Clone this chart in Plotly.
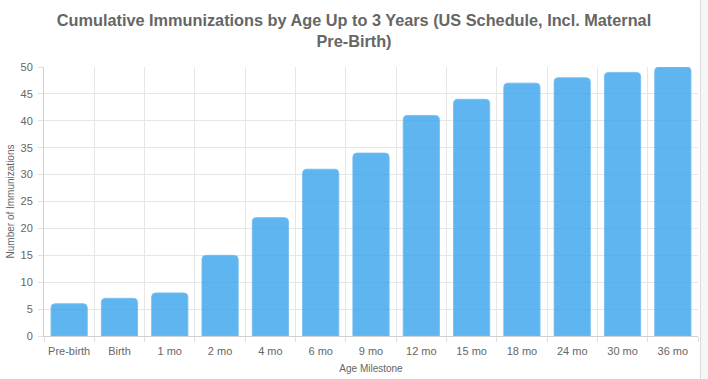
import plotly.graph_objects as go

categories = ["Pre-birth", "Birth", "1 mo", "2 mo", "4 mo", "6 mo", "9 mo",
              "12 mo", "15 mo", "18 mo", "24 mo", "30 mo", "36 mo"]
immunizations = [6, 7, 8, 15, 22, 31, 34, 41, 44, 47, 48, 49, 50]
y_ticks = [0, 5, 10, 15, 20, 25, 30, 35, 40, 45, 50]

W, H = 708, 379
L, R, T, B = 44, 10, 67, 43
pw, ph = W - L - R, H - T - B

fig = go.Figure()
fig.add_trace(go.Bar(
    x=categories, y=immunizations,
    marker=dict(color="rgba(54,162,235,0.8)",
                line=dict(color="rgba(120,190,240,0.9)", width=1),
                cornerradius=4),
    hoverinfo="x+y",
))

font = "Liberation Sans, Arial, sans-serif"
fig.update_layout(
    width=W, height=H,
    margin=dict(l=L, r=R, t=T, b=B),
    paper_bgcolor="white", plot_bgcolor="white",
    bargap=0.28,
    showlegend=False,
    font=dict(family=font, color="#666", size=11),
    title=dict(
        text="<b>Cumulative Immunizations by Age Up to 3 Years (US Schedule, Incl. Maternal<br>Pre-Birth)</b>",
        x=0.5, xref="container", xanchor="center",
        y=1 - 25.5 / H, yref="container", yanchor="middle",
        font=dict(family=font, size=16.3, color="#666"),
    ),
    xaxis=dict(
        type="category",
        tickson="boundaries",
        automargin=False,
        tickangle=0,
        showgrid=True, gridcolor="#e6e6e6", gridwidth=1,
        ticks="outside", ticklen=5, tickcolor="#e0e0e0",
        ticklabelstandoff=5,
        showline=True, linecolor="#d0d0d0", linewidth=1,
        tickfont=dict(size=11, color="#666"),
        title=dict(text="Age Milestone", font=dict(size=10, color="#666"), standoff=8),
    ),
    yaxis=dict(
        range=[0, 50], tickvals=y_ticks,
        automargin=False,
        showgrid=True, gridcolor="#e6e6e6", gridwidth=1,
        zeroline=False,
        ticks="outside", ticklen=5, tickcolor="#e0e0e0",
        ticklabelstandoff=3,
        showline=True, linecolor="#d0d0d0", linewidth=1,
        tickfont=dict(size=11, color="#666"),
        title=dict(text="Number of Immunizations", font=dict(size=10, color="#666"), standoff=4),
    ),
    shapes=[
        dict(type="rect", xref="paper", yref="paper",
             x0=(701 - L) / pw, x1=(708 - L) / pw,
             y0=-B / ph, y1=1 + T / ph,
             fillcolor="#f6f6f6", line=dict(width=0), layer="below"),
        dict(type="line", xref="paper", yref="paper",
             x0=(700.5 - L) / pw, x1=(700.5 - L) / pw,
             y0=-B / ph, y1=1 + T / ph,
             line=dict(color="#dcdcdc", width=1)),
    ],
)

fig.write_html("out.html",
               config={"displayModeBar": False},
               post_script="document.body.style.margin='0';document.body.style.overflow='hidden';")
